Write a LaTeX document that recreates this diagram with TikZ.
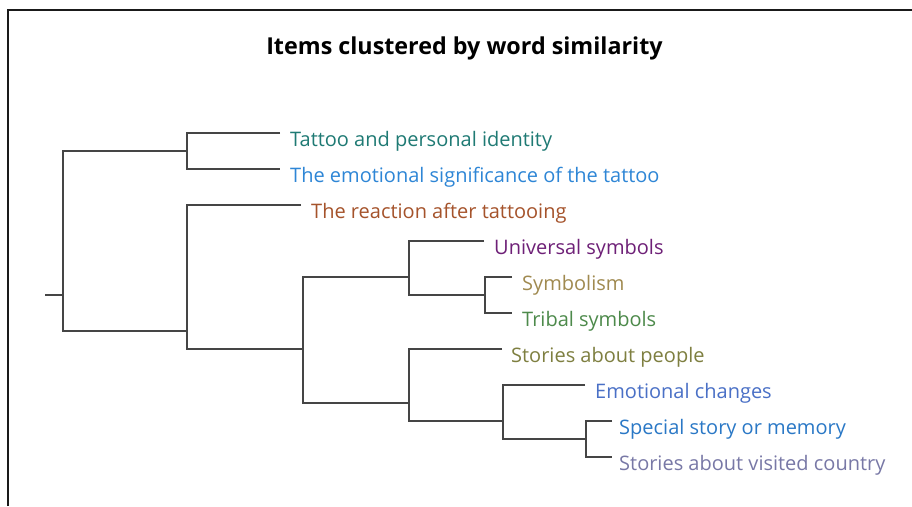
\documentclass[tikz,border=0pt]{standalone}
\usepackage{fontspec}
\setmainfont{Open Sans}
\usetikzlibrary{calc}
\definecolor{linegray}{HTML}{454545}
\definecolor{framec}{HTML}{1A1A1A}
\definecolor{cA}{HTML}{1F7A74}
\definecolor{cB}{HTML}{2E86D6}
\definecolor{cC}{HTML}{A5532B}
\definecolor{cD}{HTML}{6E2077}
\definecolor{cE}{HTML}{A08A50}
\definecolor{cF}{HTML}{4D8A4B}
\definecolor{cG}{HTML}{7E7F40}
\definecolor{cH}{HTML}{4A70C6}
\definecolor{cI}{HTML}{2A78C6}
\definecolor{cJ}{HTML}{7878A6}
\begin{document}
\begin{tikzpicture}[x=1pt,y=-1pt,
  link/.style={draw=linegray, line width=1.8pt},
  frameline/.style={draw=framec, line width=2pt},
  lbl/.style={anchor=base west, inner sep=0pt, font=\fontsize{20}{24}\selectfont},
  ttl/.style={anchor=base, inner sep=0pt, font=\bfseries\fontsize{23.3}{28}\selectfont}]
\useasboundingbox (0,0) rectangle (912,506);
\fill[white] (0,0) rectangle (912,506);
\draw[frameline] (7.5,506) |- (913,10);
\node[ttl] (title) at (464.5,54) {Items clustered by word similarity};
% internal nodes
\coordinate (r0) at (45,295);
\coordinate (nR) at (63,295);
\coordinate (nA) at (187,151);
\coordinate (nB) at (187,331);
\coordinate (nC) at (303,349);
\coordinate (nD) at (409,277);
\coordinate (nE) at (485,295);
\coordinate (nF) at (409,403);
\coordinate (nG) at (503,421);
\coordinate (nH) at (586,439);
% leaf ends
\coordinate (e1) at (280,133);
\coordinate (e2) at (280,169);
\coordinate (e3) at (301,205);
\coordinate (e4) at (484,241);
\coordinate (e5) at (512,277);
\coordinate (e6) at (512,313);
\coordinate (e7) at (502,349);
\coordinate (e8) at (585,385);
\coordinate (e9) at (612,421);
\coordinate (e10) at (612,457);
% connectors
\draw[link] (r0) -- (nR);
\draw[link] (nA) -| (nR) |- (nB);
\draw[link] (e1) -| (nA) |- (e2);
\draw[link] (e3) -| (nB) |- (nC);
\draw[link] (nD) -| (nC) |- (nF);
\draw[link] (e4) -| (nD) |- (nE);
\draw[link] (e5) -| (nE) |- (e6);
\draw[link] (e7) -| (nF) |- (nG);
\draw[link] (e8) -| (nG) |- (nH);
\draw[link] (e9) -| (nH) |- (e10);
% labels
\node[lbl, text=cA] (t1) at ($(e1)+(10,13)$) {Tattoo and personal identity};
\node[lbl, text=cB] (t2) at ($(e2)+(10,13)$) {The emotional significance of the tattoo};
\node[lbl, text=cC] (t3) at ($(e3)+(10,13)$) {The reaction after tattooing};
\node[lbl, text=cD] (t4) at ($(e4)+(10,13)$) {Universal symbols};
\node[lbl, text=cE] (t5) at ($(e5)+(10,13)$) {Symbolism};
\node[lbl, text=cF] (t6) at ($(e6)+(10,13)$) {Tribal symbols};
\node[lbl, text=cG] (t7) at ($(e7)+(9,13)$) {Stories about people};
\node[lbl, text=cH] (t8) at ($(e8)+(10,13)$) {Emotional changes};
\node[lbl, text=cI] (t9) at ($(e9)+(7,13)$) {Special story or memory};
\node[lbl, text=cJ] (t10) at ($(e10)+(7,13)$) {Stories about visited country};
\end{tikzpicture}
\end{document}
